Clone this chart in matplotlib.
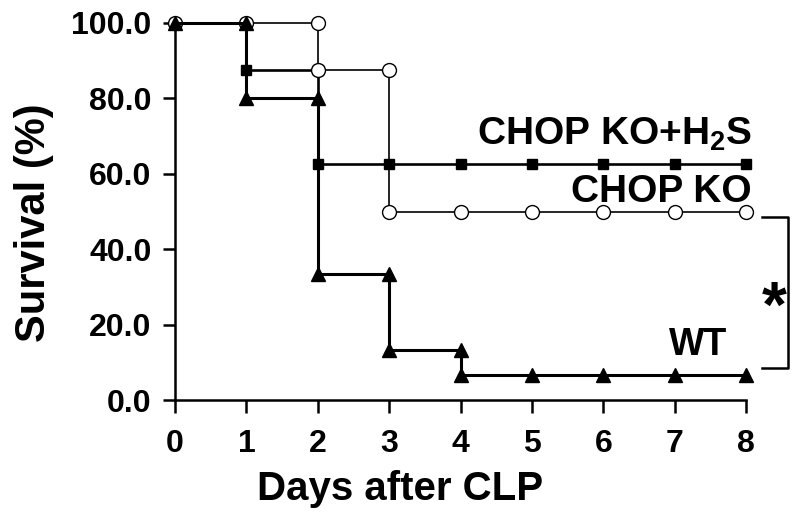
import matplotlib
matplotlib.use("Agg")
import matplotlib.pyplot as plt

plt.rcParams['font.family'] = ['Liberation Sans', 'DejaVu Sans']
plt.rcParams['font.weight'] = 'bold'
plt.rcParams['mathtext.fontset'] = 'custom'
plt.rcParams['mathtext.rm'] = 'Liberation Sans:bold'
plt.rcParams['mathtext.it'] = 'Liberation Sans:bold'
plt.rcParams['mathtext.bf'] = 'Liberation Sans:bold'

days = [0, 1, 2, 3, 4, 5, 6, 7, 8]
wt = [100.0, 80.0, 33.3, 13.3, 6.7, 6.7, 6.7, 6.7, 6.7]
chop_ko = [100.0, 100.0, 87.5, 50.0, 50.0, 50.0, 50.0, 50.0, 50.0]
chop_ko_h2s = [100.0, 87.5, 62.5, 62.5, 62.5, 62.5, 62.5, 62.5, 62.5]
labels = ['CHOP KO+H$_2$S', 'CHOP KO', 'WT']
yticks = [0, 20, 40, 60, 80, 100]


def step_path(t, s):
    xs, ys = [t[0]], [s[0]]
    for i in range(1, len(t)):
        xs.append(t[i]); ys.append(s[i - 1])
        if s[i] != s[i - 1]:
            xs.append(t[i]); ys.append(s[i])
    return xs, ys


fig = plt.figure(figsize=(8, 5.21), dpi=100)
ax = fig.add_axes([175 / 800, 1 - 400 / 521, (746 - 175) / 800, (400 - 23) / 521])

x, y = step_path(days, chop_ko_h2s)
ax.plot(x, y, color='black', lw=1.9, marker='s', ms=7, mfc='black', mec='black',
        clip_on=False, zorder=3)
x, y = step_path(days, chop_ko)
ax.plot(x, y, color='black', lw=1.2, marker='o', ms=10, mfc='white', mec='black',
        mew=1.0, clip_on=False, zorder=4)
x, y = step_path(days, wt)
ax.plot(x, y, color='black', lw=2.2, marker='^', ms=10.5, mfc='black', mec='black',
        clip_on=False, zorder=5)

ax.set_xlim(0, 8)
ax.set_ylim(0, 100)
ax.set_xticks(days)
ax.set_yticks(yticks)
ax.set_yticklabels([f'{v:.1f}' for v in yticks])
ax.tick_params(axis='both', labelsize=23, width=1.8, length=9, direction='out')
ax.tick_params(axis='y', pad=8)
ax.tick_params(axis='x', pad=12)
for t in ax.get_xticklabels() + ax.get_yticklabels():
    t.set_fontweight('bold')

for side in ['top', 'right']:
    ax.spines[side].set_visible(False)
for side in ['left', 'bottom']:
    ax.spines[side].set_linewidth(1.8)

ax.set_xlabel('Days after CLP', fontsize=29, fontweight='bold')
ax.xaxis.set_label_coords(0.395, -0.185)
ax.set_ylabel('Survival (%)', fontsize=30, fontweight='bold')
ax.yaxis.set_label_coords(-0.212, 0.47)

ax.text(8.08, 67.6, labels[0], fontsize=28, fontweight='bold', ha='right', va='baseline')
ax.text(8.08, 52.5, labels[1], fontsize=28, fontweight='bold', ha='right', va='baseline')
ax.text(7.73, 11.9, labels[2], fontsize=27, fontweight='bold', ha='right', va='baseline')

# significance bracket
ax.plot([8.22, 8.585, 8.585, 8.22], [48.5, 48.5, 8.5, 8.5], color='black', lw=1.8,
        clip_on=False)
ax.text(8.39, 24, '*', fontsize=46, fontweight='bold', ha='center', va='center')

fig.savefig('out.png', dpi=100)
